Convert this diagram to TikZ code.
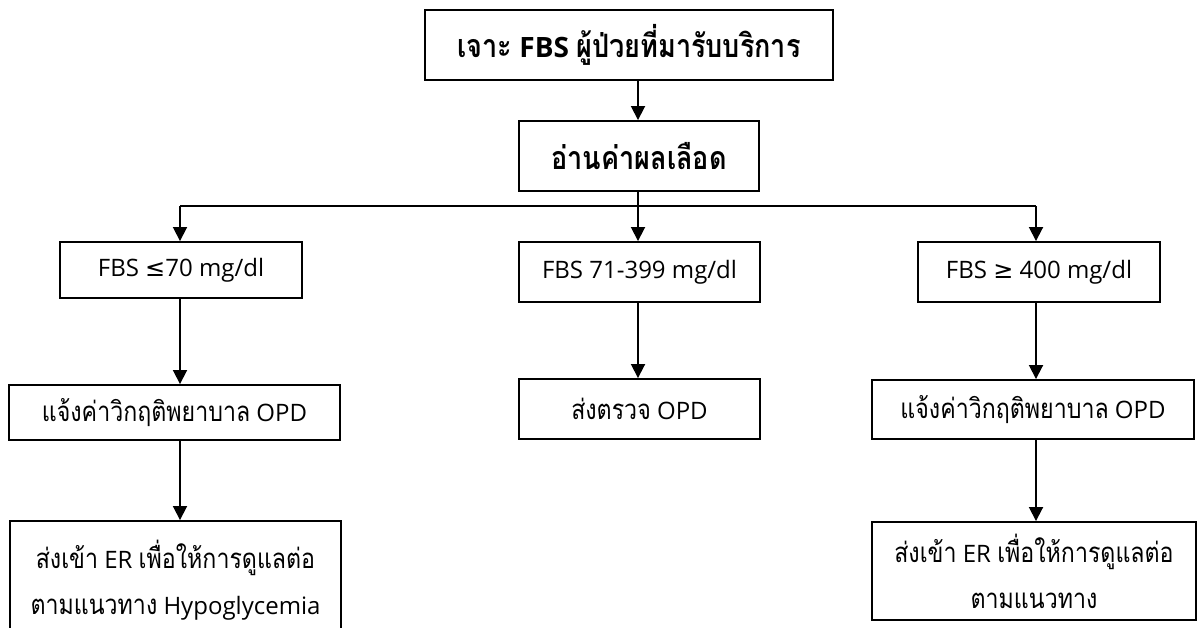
\documentclass[tikz,border=0pt]{standalone}
\usepackage{fontspec}
\setmainfont{Open Sans}
\newfontfamily\thf[Script=Thai,Scale=1.15,FakeStretch=0.84]{Loma}
\newfontfamily\dvf{DejaVu Sans}
\usetikzlibrary{arrows.meta}
\begin{document}
\begin{tikzpicture}[x=1pt,y=-1pt,
  box/.style={draw,line width=1.9pt,inner sep=0pt,anchor=center,align=center,
    font=\fontsize{24}{46}\selectfont},
  bbox/.style={box,font=\fontsize{28}{32}\selectfont\bfseries},
  arr/.style={line width=1.8pt,-{Triangle[width=14pt,length=14pt]}},
  ln/.style={line width=1.8pt}]
\clip (0,0) rectangle (1197,627);
\useasboundingbox (0,0) rectangle (1197,627);
\node[bbox,minimum width=408pt,minimum height=70pt] (top) at (629,45)
  {{\thf เจาะ} FBS {\thf ผู้ป่วยที่มารับบริการ}};
\node[bbox,minimum width=240pt,minimum height=70pt] (read) at (639,156)
  {\thf อ่านค่าผลเลือด};
\node[box,minimum width=242pt,minimum height=56pt] (L1) at (181,270)
  {FBS {\dvf ≤}70 mg/dl};
\node[box,minimum width=331pt,minimum height=55pt] (L2) at (174.5,412.5)
  {{\thf แจ้งค่าวิกฤติพยาบาล} OPD};
\node[box,minimum width=331pt,minimum height=119pt] (L3) at (175.5,580.5)
  {{\thf ส่งเข้า} ER {\thf เพื่อให้การดูแลต่อ}\\{\thf ตามแนวทาง} Hypoglycemia};
\node[box,minimum width=241pt,minimum height=60pt] (M1) at (639.5,272)
  {FBS 71-399 mg/dl};
\node[box,minimum width=241pt,minimum height=60pt] (M2) at (639.5,409)
  {{\thf ส่งตรวจ} OPD};
\node[box,minimum width=242pt,minimum height=60pt] (R1) at (1039,272)
  {FBS {\dvf ≥} 400 mg/dl};
\node[box,minimum width=322pt,minimum height=59pt] (R2) at (1033,409.5)
  {{\thf แจ้งค่าวิกฤติพยาบาล} OPD};
\node[box,minimum width=324pt,minimum height=98pt] (R3) at (1034,571)
  {{\thf ส่งเข้า} ER {\thf เพื่อให้การดูแลต่อ}\\{\thf ตามแนวทาง}};
\coordinate (split) at (638,206);
\coordinate (hl) at (180,206);
\coordinate (hr) at (1036,206);
\coordinate (xm) at (638,0);
\draw[arr] (top.south -| xm) -- (read.north -| xm);
\draw[ln] (read.south -| xm) -- (split);
\draw[ln] (hl) -- (hr);
\draw[arr] (split) -- (M1.north -| xm);
\draw[arr] (hl) -- (L1.north -| hl);
\draw[arr] (hr) -- (R1.north -| hr);
\draw[arr] (L1.south -| hl) -- (L2.north -| hl);
\draw[arr] (L2.south -| hl) -- (L3.north -| hl);
\draw[arr] (M1.south -| xm) -- (M2.north -| xm);
\draw[arr] (R1.south -| hr) -- (R2.north -| hr);
\draw[arr] (R2.south -| hr) -- (R3.north -| hr);
\end{tikzpicture}
\end{document}
